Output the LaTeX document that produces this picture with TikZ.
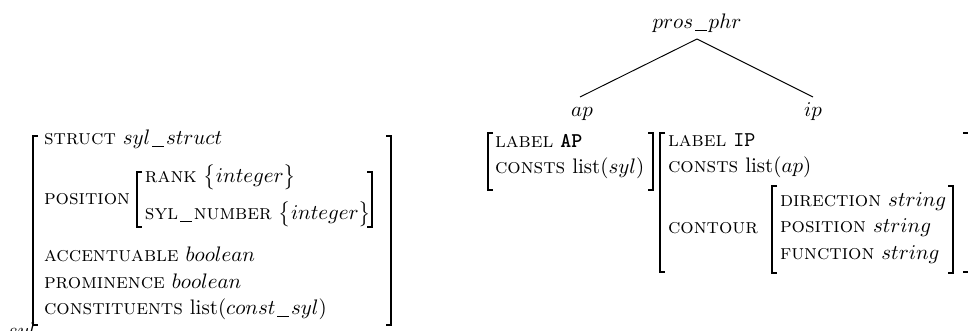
\documentclass[tikz,border=0pt]{standalone}
\usetikzlibrary{calc}
\newcommand\undsc{\kern0.9pt\rule[-0.7pt]{5.6pt}{0.42pt}\kern0.9pt}
\begin{document}
\begin{tikzpicture}[x=0.47619pt,y=-0.47619pt,
  lbl/.style={anchor=base west,inner sep=0pt,outer sep=0pt},
  tnode/.style={anchor=base,inner sep=0pt,outer sep=0pt},
  brk/.style={line width=0.65pt},
  edge/.style={line width=0.45pt}]
\useasboundingbox (0,0) rectangle (968,331);
% ---------- left AVM (syl) ----------
\draw[brk] (38,136) -- (33,136) -- (33,325) -- (38,325);
\draw[brk] (386,136) -- (391,136) -- (391,325) -- (386,325);
\draw[brk] (142,172) -- (137,172) -- (137,227) -- (142,227);
\draw[brk] (367,172) -- (372,172) -- (372,227) -- (367,227);
\node[lbl] (struct) at (44,145) {\textsc{struct} $syl$\undsc$struct$};
\node[lbl] (position) at (44,205) {\textsc{position}};
\node[lbl] (rank) at (145,183) {\textsc{rank} $\bigl\{integer\bigr\}$};
\node[lbl] (sylnum) at (145,220) {\textsc{syl}\undsc\textsc{number} $\bigl\{integer\bigr\}$};
\node[lbl] (accent) at (44,262) {\textsc{accentuable} $boolean$};
\node[lbl] (promin) at (44,288.5) {\textsc{prominence} $boolean$};
\node[lbl] (constit) at (44,315) {\textsc{constituents} list($const$\undsc$syl$)};
\node[lbl] (syllbl) at (8,338) {$syl$};
% ---------- tree ----------
\node[tnode] (root) at (697,29) {$pros$\undsc$phr$};
\node[tnode] (ap) at (582,117) {$ap$};
\node[tnode] (ip) at (813,117) {$ip$};
\draw[edge] ($(root.base)+(0,10)$) -- ($(ap.base)+(-2,-20)$);
\draw[edge] ($(root.base)+(0,10)$) -- ($(ip.base)+(0,-20)$);
% ---------- AP AVM ----------
\draw[brk] (493,133) -- (488,133) -- (488,190) -- (493,190);
\draw[brk] (648,133) -- (653,133) -- (653,190) -- (648,190);
\node[lbl] (aplabel) at (495,148) {\textsc{label} \textbf{\texttt{AP}}};
\node[lbl] (apconsts) at (495,174) {\textsc{consts} list($syl$)};
% ---------- IP AVM ----------
\draw[brk] (665,133) -- (660,133) -- (660,272) -- (665,272);
\draw[brk] (963,133) -- (969,133) -- (969,272) -- (963,272);
\draw[brk] (777,186) -- (772,186) -- (772,273) -- (777,273);
\draw[brk] (948,186) -- (953,186) -- (953,273) -- (948,273);
\node[lbl] (iplabel) at (668,147) {\textsc{label} \texttt{IP}};
\node[lbl] (ipconsts) at (668,173) {\textsc{consts} list($ap$)};
\node[lbl] (contour) at (668,234) {\textsc{contour}};
\node[lbl] (direction) at (780,207) {\textsc{direction} $string$};
\node[lbl] (cposition) at (780,233) {\textsc{position} $string$};
\node[lbl] (function) at (780,260) {\textsc{function} $string$};
\end{tikzpicture}
\end{document}
